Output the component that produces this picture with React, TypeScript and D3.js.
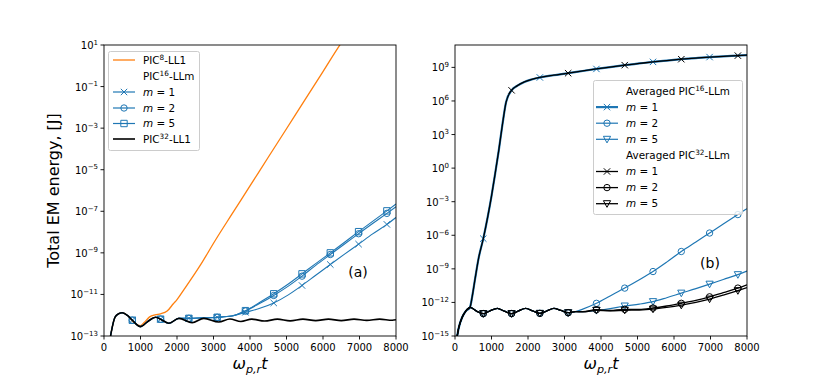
import React from 'react';
import * as d3 from 'd3';

// energies are stored as log10(E / J), time as omega_{p,r} t
const xTickValues = [0, 1000, 2000, 3000, 4000, 5000, 6000, 7000, 8000];
const leftYTickExps = [1, -1, -3, -5, -7, -9, -11, -13];
const rightYTickExps = [9, 6, 3, 0, -3, -6, -9, -12, -15];
const markerTimes = [775, 1550, 2325, 3100, 3875, 4650, 5425, 6200, 6975, 7750];
const oddMarkerTimes = [775, 2325, 3875, 5425, 6975];
const evenMarkerTimes = [1550, 3100, 4650, 6200, 7750];

// ---- panel (a)
const pic8LL1 = [
  [150, -13.3], [200, -12.8], [300, -12.1], [400, -11.93], [500, -11.88], [650, -12.02],
  [800, -12.33], [1000, -12.5], [1100, -12.35], [1250, -12.08], [1400, -11.98], [1550, -11.93],
  [1730, -11.8], [1900, -11.45], [2000, -11.25], [2186, -10.78], [2644, -9.58], [3055, -8.38],
  [3500, -7.15], [4000, -5.78], [4500, -4.4], [5000, -3.03], [5500, -1.65], [6000, -0.28],
  [6500, 1.1], [6700, 1.6],
];
const pic16Start = [
  [150, -13.3], [200, -12.8], [300, -12.1], [400, -11.93], [500, -11.88], [650, -12.02],
  [775, -12.24], [1000, -12.55], [1200, -12.3], [1410, -12.1], [1550, -12.19], [1775, -12.39],
  [2050, -12.15], [2325, -12.15], [2700, -12.13], [3100, -12.1], [3500, -12.04],
];
const pic16m1Tail = [
  [3875, -11.86], [4250, -11.68], [4650, -11.41], [5050, -11.02], [5425, -10.57], [5800, -10.08],
  [6200, -9.56], [6600, -9.05], [6975, -8.58], [7350, -8.1], [7750, -7.63], [8000, -7.3],
];
const pic16m2Tail = [
  [3875, -11.8], [4250, -11.45], [4650, -11.05], [5050, -10.6], [5425, -10.12], [5800, -9.6],
  [6200, -9.08], [6600, -8.56], [6975, -8.08], [7350, -7.6], [7750, -7.1], [8000, -6.78],
];
const pic16m5Tail = [
  [3875, -11.78], [4250, -11.4], [4650, -10.97], [5050, -10.5], [5425, -10.01], [5800, -9.52],
  [6200, -9.0], [6600, -8.48], [6975, -7.98], [7350, -7.5], [7750, -6.98], [8000, -6.65],
];
const pic32LL1 = [
  [150, -13.3], [200, -12.8], [300, -12.1], [400, -11.93], [500, -11.88], [650, -12.02],
  [775, -12.24], [1000, -12.55], [1200, -12.3], [1410, -12.1], [1550, -12.19], [1775, -12.39],
  [2050, -12.15], [2415, -12.36], [2735, -12.15], [3145, -12.33], [3450, -12.18], [3750, -12.3],
  [4050, -12.19], [4400, -12.28], [4750, -12.19], [5100, -12.27], [5450, -12.19], [5800, -12.26],
  [6150, -12.19], [6500, -12.26], [6850, -12.19], [7200, -12.25], [7550, -12.19], [7900, -12.24],
  [8000, -12.22],
];

// ---- panel (b)
const avgStart = [[30, -15.6], [100, -14.3], [200, -13.3], [300, -12.75], [410, -12.44]];
const avgM1Tail = [
  [470, -11.5], [550, -9.9], [650, -8.0], [775, -6.3], [900, -4.3], [1000, -2.5], [1100, -0.5],
  [1200, 1.6], [1300, 3.9], [1400, 5.9], [1550, 6.95], [1700, 7.35], [1900, 7.7], [2100, 7.92],
  [2325, 8.1], [2700, 8.3], [3100, 8.48], [3500, 8.68], [3875, 8.86], [4250, 9.03], [4650, 9.2],
  [5050, 9.35], [5425, 9.49], [5800, 9.61], [6200, 9.73], [6600, 9.83], [6975, 9.92],
  [7350, 9.99], [7750, 10.05], [8000, 10.09],
];
const avgWave = [
  [600, -12.8], [775, -13.0], [960, -12.75], [1160, -12.53], [1350, -12.78], [1550, -13.0],
  [1740, -12.76], [1935, -12.53], [2130, -12.76], [2325, -12.98], [2520, -12.75], [2710, -12.53],
  [2900, -12.72], [3100, -12.92], [3300, -12.82],
];
const avg16m2Tail = [
  [3500, -12.6], [3875, -12.08], [4250, -11.42], [4650, -10.72], [5050, -9.98], [5425, -9.24],
  [5800, -8.4], [6200, -7.45], [6600, -6.6], [6975, -5.8], [7350, -5.0], [7750, -4.15], [8000, -3.62],
];
const avg16m5Tail = [
  [3500, -12.82], [3875, -12.72], [4250, -12.55], [4650, -12.32], [5050, -12.15], [5425, -11.93],
  [5800, -11.58], [6200, -11.17], [6600, -10.77], [6975, -10.37], [7350, -9.95], [7750, -9.52],
  [8000, -9.2],
];
const avg32m2Tail = [
  [3500, -12.82], [3875, -12.65], [4250, -12.72], [4650, -12.62], [5050, -12.62], [5425, -12.5],
  [5800, -12.32], [6200, -12.08], [6600, -11.82], [6975, -11.5], [7350, -11.12], [7750, -10.72],
  [8000, -10.42],
];
const avg32m5Tail = [
  [3500, -12.85], [3875, -12.7], [4250, -12.75], [4650, -12.7], [5050, -12.68], [5425, -12.6],
  [5800, -12.45], [6200, -12.25], [6600, -12.0], [6975, -11.7], [7350, -11.35], [7750, -10.95],
  [8000, -10.68],
];

const BLUE = '#1f77b4';
const ORANGE = '#ff7f0e';
const FONT = 'DejaVu Sans, sans-serif';
const LEG_FS = 10.4;

type Pt = number[];
type Series = { pts: Pt[]; color: string; width: number; marker?: string; markT?: number[] };

const markerPath = (kind: string, x: number, y: number) => {
  const r = 3.2;
  if (kind === 'x') return `M${x - r},${y - r}L${x + r},${y + r}M${x - r},${y + r}L${x + r},${y - r}`;
  if (kind === 's') return `M${x - r},${y - r}h${2 * r}v${2 * r}h${-2 * r}Z`;
  if (kind === 'v') return `M${x - 3.6},${y - 3}L${x + 3.6},${y - 3}L${x},${y + 3.6}Z`;
  return `M${x - r},${y}a${r},${r} 0 1,0 ${2 * r},0a${r},${r} 0 1,0 ${-2 * r},0`;
};

const Sup = ({ base, sup, rest, size = 7.3 }: { base: string; sup: string; rest: string; size?: number }) => (
  <>
    {base}
    <tspan dy={-4.2} fontSize={size}>{sup}</tspan>
    <tspan dy={4.2}>{rest}</tspan>
  </>
);

const MathM = ({ n }: { n: number }) => (
  <>
    <tspan fontStyle="italic">m</tspan>
    <tspan> = {n}</tspan>
  </>
);

const Panel = ({ id, xr, yDomain, yTicks, series, label, labelPos }: any) => {
  const top = 45;
  const bottom = 336;
  const x = d3.scaleLinear().domain([0, 8000]).range(xr);
  const y = d3.scaleLog().domain(yDomain).range([bottom, top]);
  const line = d3
    .line<Pt>()
    .x((d) => x(d[0]))
    .y((d) => y(Math.pow(10, d[1])))
    .curve(d3.curveMonotoneX);
  return (
    <g>
      <defs>
        <clipPath id={id}>
          <rect x={xr[0]} y={top} width={xr[1] - xr[0]} height={bottom - top} />
        </clipPath>
      </defs>
      <g clipPath={`url(#${id})`}>
        {series.map((s: Series, i: number) => (
          <g key={i}>
            <path d={line(s.pts) || ''} fill="none" stroke={s.color} strokeWidth={s.width} strokeLinejoin="round" />
            {s.marker &&
              s.pts
                .filter((p) => (s.markT || []).includes(p[0]))
                .map((p, j) => (
                  <path
                    key={j}
                    d={markerPath(s.marker!, x(p[0]), y(Math.pow(10, p[1])))}
                    fill="none"
                    stroke={s.color}
                    strokeWidth={1}
                  />
                ))}
          </g>
        ))}
      </g>
      <rect x={xr[0]} y={top} width={xr[1] - xr[0]} height={bottom - top} fill="none" stroke="#000" strokeWidth={0.9} />
      {xTickValues.map((t) => (
        <g key={t}>
          <line x1={x(t)} x2={x(t)} y1={bottom} y2={bottom + 3.5} stroke="#000" strokeWidth={0.9} />
          <text x={x(t)} y={bottom + 14.5} textAnchor="middle" fontSize={10} fontFamily={FONT}>
            {t}
          </text>
        </g>
      ))}
      {yTicks.map((e: number) => (
        <g key={e}>
          <line x1={xr[0] - 3.5} x2={xr[0]} y1={y(Math.pow(10, e))} y2={y(Math.pow(10, e))} stroke="#000" strokeWidth={0.9} />
          <text x={xr[0] - 6} y={y(Math.pow(10, e)) + 4} textAnchor="end" fontSize={10} fontFamily={FONT}>
            10
            <tspan dy={-4.5} fontSize={7}>{e < 0 ? `\u2212${-e}` : `${e}`}</tspan>
          </text>
        </g>
      ))}
      <text x={(xr[0] + xr[1]) / 2} y={369} textAnchor="middle" fontSize={16} fontFamily={FONT} fontStyle="italic">
        ω<tspan dy={3.5} fontSize={11.2}>p,r</tspan>
        <tspan dy={-3.5}>t</tspan>
      </text>
      <text x={labelPos[0]} y={labelPos[1]} textAnchor="middle" fontSize={14} fontFamily={FONT}>
        {label}
      </text>
    </g>
  );
};

const LegendRow = ({ x, y, color, marker, width = 1.2, children }: any) => (
  <g>
    {color && <line x1={x} x2={x + 22} y1={y} y2={y} stroke={color} strokeWidth={width} />}
    {marker && <path d={markerPath(marker, x + 11, y)} fill="none" stroke={color} strokeWidth={1} />}
    <text x={x + 30} y={y + 3.7} fontSize={LEG_FS} fontFamily={FONT}>
      {children}
    </text>
  </g>
);

export default function App() {
  const leftSeries: Series[] = [
    { pts: pic8LL1, color: ORANGE, width: 1.3 },
    { pts: [...pic16Start, ...pic16m1Tail], color: BLUE, width: 1.1, marker: 'x', markT: markerTimes },
    { pts: [...pic16Start, ...pic16m2Tail], color: BLUE, width: 1.1, marker: 'o', markT: markerTimes },
    { pts: [...pic16Start, ...pic16m5Tail], color: BLUE, width: 1.1, marker: 's', markT: markerTimes },
    { pts: pic32LL1, color: '#000', width: 1.6 },
  ];
  const rightSeries: Series[] = [
    { pts: [...avgStart, ...avgM1Tail], color: BLUE, width: 2.2, marker: 'x', markT: oddMarkerTimes },
    { pts: [...avgStart, ...avgWave, ...avg16m2Tail], color: BLUE, width: 1.2, marker: 'o', markT: markerTimes },
    { pts: [...avgStart, ...avgWave, ...avg16m5Tail], color: BLUE, width: 1.2, marker: 'v', markT: markerTimes },
    { pts: [...avgStart, ...avgM1Tail], color: '#000', width: 1.3, marker: 'x', markT: evenMarkerTimes },
    { pts: [...avgStart, ...avgWave, ...avg32m2Tail], color: '#000', width: 1.3, marker: 'o', markT: markerTimes },
    { pts: [...avgStart, ...avgWave, ...avg32m5Tail], color: '#000', width: 1.3, marker: 'v', markT: markerTimes },
  ];
  const rs = 16.1;
  return (
    <div style={{ position: 'absolute', left: 0, top: 0 }}>
      <svg width={830} height={378} style={{ display: 'block', background: '#fff' }}>
        <text transform="translate(59,190.5) rotate(-90)" textAnchor="middle" fontSize={16} fontFamily={FONT}>
          Total EM energy, [J]
        </text>
        <Panel id="clipA" xr={[104, 396]} yDomain={[1e-13, 1e1]} yTicks={leftYTickExps} series={leftSeries} label="(a)" labelPos={[358, 277]} />
        <Panel id="clipB" xr={[455, 747]} yDomain={[1e-15, 1e11]} yTicks={rightYTickExps} series={rightSeries} label="(b)" labelPos={[710, 268]} />

        <rect x={108.5} y={51.5} width={91} height={99} rx={2} fill="#fff" fillOpacity={0.8} stroke="#cccccc" />
        <LegendRow x={113} y={60} color={ORANGE} width={1.3}><Sup base="PIC" sup="8" rest="-LL1" /></LegendRow>
        <LegendRow x={113} y={76}><Sup base="PIC" sup="16" rest="-LLm" /></LegendRow>
        <LegendRow x={113} y={92} color={BLUE} marker="x"><MathM n={1} /></LegendRow>
        <LegendRow x={113} y={108} color={BLUE} marker="o"><MathM n={2} /></LegendRow>
        <LegendRow x={113} y={123.5} color={BLUE} marker="s"><MathM n={5} /></LegendRow>
        <LegendRow x={113} y={139} color="#000" width={1.6}><Sup base="PIC" sup="32" rest="-LL1" /></LegendRow>

        <rect x={593.5} y={80.5} width={149} height={134} rx={2} fill="#fff" fillOpacity={0.8} stroke="#cccccc" />
        <LegendRow x={596} y={91}><Sup base="Averaged PIC" sup="16" rest="-LLm" /></LegendRow>
        <LegendRow x={596} y={91 + rs} color={BLUE} marker="x" width={2.2}><MathM n={1} /></LegendRow>
        <LegendRow x={596} y={91 + 2 * rs} color={BLUE} marker="o"><MathM n={2} /></LegendRow>
        <LegendRow x={596} y={91 + 3 * rs} color={BLUE} marker="v"><MathM n={5} /></LegendRow>
        <LegendRow x={596} y={91 + 4 * rs}><Sup base="Averaged PIC" sup="32" rest="-LLm" /></LegendRow>
        <LegendRow x={596} y={91 + 5 * rs} color="#000" marker="x" width={1.3}><MathM n={1} /></LegendRow>
        <LegendRow x={596} y={91 + 6 * rs} color="#000" marker="o" width={1.3}><MathM n={2} /></LegendRow>
        <LegendRow x={596} y={91 + 7 * rs} color="#000" marker="v" width={1.3}><MathM n={5} /></LegendRow>
      </svg>
    </div>
  );
}
